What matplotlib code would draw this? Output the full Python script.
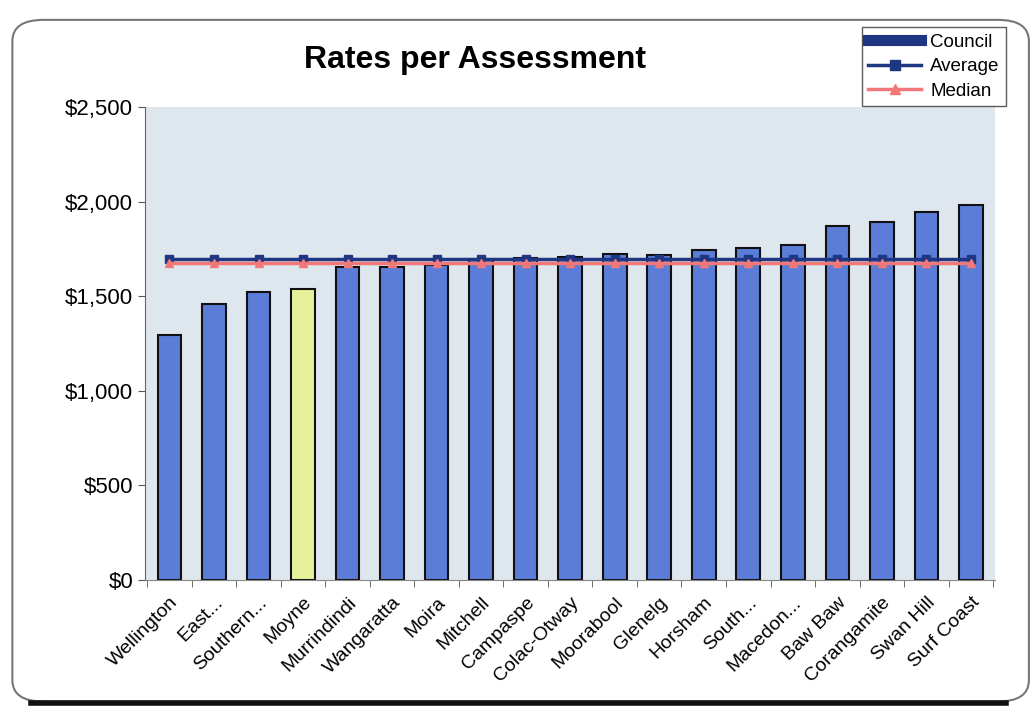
import matplotlib
matplotlib.use("Agg")
import matplotlib.pyplot as plt
from matplotlib.lines import Line2D
from matplotlib.patches import FancyBboxPatch
from matplotlib.ticker import FuncFormatter, FixedLocator
import numpy as np

plt.rcParams['font.family'] = ['Liberation Sans', 'DejaVu Sans']

councils = ["Wellington", "East...", "Southern...", "Moyne", "Murrindindi", "Wangaratta",
            "Moira", "Mitchell", "Campaspe", "Colac-Otway", "Moorabool", "Glenelg",
            "Horsham", "South...", "Macedon...", "Baw Baw", "Corangamite", "Swan Hill",
            "Surf Coast"]
rates = [1295, 1462, 1523, 1539, 1653, 1656, 1667, 1690, 1704, 1709, 1722, 1720,
         1746, 1754, 1773, 1874, 1892, 1948, 1985]
average = [1700] * len(councils)
median = [1675] * len(councils)
highlight = "Moyne"

fig = plt.figure(figsize=(10.32, 7.10), dpi=100)
fig.patch.set_facecolor("white")

# rounded chart frame like the scanned excel chart area
frame = FancyBboxPatch((0.012, 0.012), 0.985, 0.96, boxstyle="round,pad=0,rounding_size=0.03",
                       transform=fig.transFigure, facecolor="white", edgecolor="#777777",
                       linewidth=1.5, zorder=-2)
fig.add_artist(frame)
fig.add_artist(Line2D([0.03, 0.975], [0.01, 0.01], color="#111111", lw=4,
                      transform=fig.transFigure, zorder=-1))

ax = fig.add_axes([0.1405, 0.183, 0.824, 0.666])
ax.set_zorder(1)
ax.set_facecolor("#dfe7ee")

x = np.arange(len(councils))
colors = ["#e6f29a" if c == highlight else "#5b7dd8" for c in councils]
ax.bar(x, rates, width=0.53, color=colors, edgecolor="#111111", linewidth=1.5, zorder=2)
ax.plot(x, average, color="#1f3683", lw=2.5, marker="s", markersize=6, zorder=3)
ax.plot(x, median, color="#f07878", lw=2.5, marker="^", markersize=6, zorder=4)

ax.set_xlim(-0.55, len(councils) - 0.45)
ax.set_ylim(0, 2500)
ax.set_yticks([0, 500, 1000, 1500, 2000, 2500])
ax.yaxis.set_major_formatter(FuncFormatter(lambda v, p: "${:,.0f}".format(v)))
ax.tick_params(axis="y", labelsize=16, length=5, color="#555555")
ax.set_xticks(x)
ax.set_xticklabels(councils, rotation=45, ha="right", rotation_mode="anchor", fontsize=14)
ax.tick_params(axis="x", length=0, pad=10)
ax.xaxis.set_minor_locator(FixedLocator(np.arange(len(councils) + 1) - 0.5))
ax.tick_params(axis="x", which="minor", length=5, color="#555555")

for s in ["top", "right"]:
    ax.spines[s].set_visible(False)
ax.spines["left"].set_color("#666666")
ax.spines["bottom"].set_color("#888888")

fig.text(0.46, 0.915, "Rates per Assessment", ha="center", va="center",
         fontsize=23, fontweight="bold")

handles = [Line2D([], [], color="#1f3683", lw=8),
           Line2D([], [], color="#1f3683", lw=2.5, marker="s", markersize=7),
           Line2D([], [], color="#f07878", lw=2.5, marker="^", markersize=7)]
leg = fig.legend(handles, ["Council", "Average", "Median"], loc="upper right",
                 bbox_to_anchor=(0.975, 0.962), fontsize=13.5, frameon=True, fancybox=False,
                 edgecolor="#333333", handlelength=2.8, handletextpad=0.5,
                 borderpad=0.35, labelspacing=0.4, borderaxespad=0)
leg.get_frame().set_linewidth(1)
leg.set_zorder(5)

fig.savefig("out.png", dpi=100)
